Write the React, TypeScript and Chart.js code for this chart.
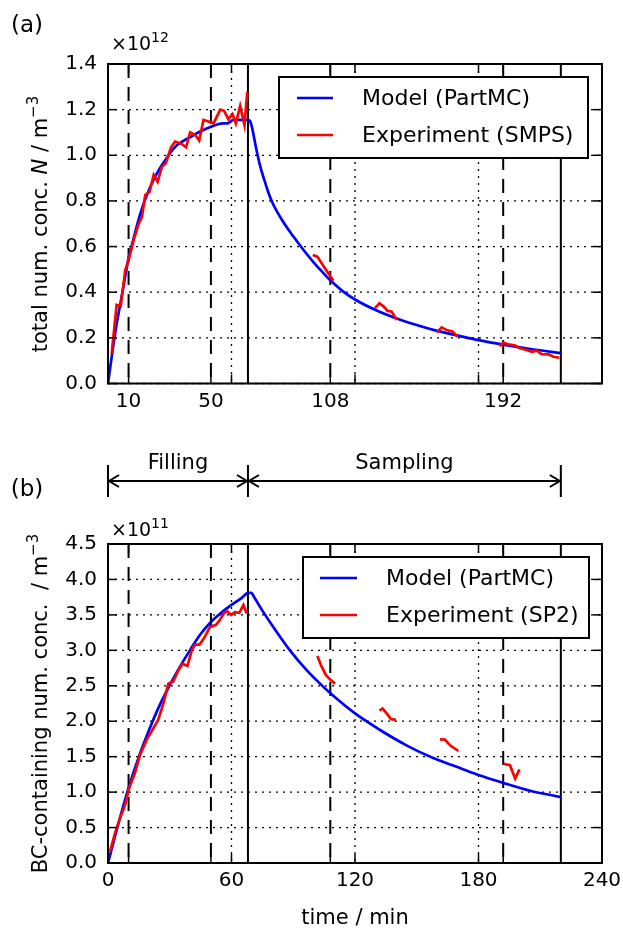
import { useEffect, useRef } from "react";
import { Chart, registerables } from "chart.js";

Chart.register(...registerables);

const FONT = '"DejaVu Sans", sans-serif';

// ---------- panel (a): total number concentration (units of 1e12 m^-3) ----------
const modelTimeA = [0, 2, 4, 6, 8, 10, 12, 14, 17, 20, 22, 25, 28.7, 31, 33.6, 37, 40, 45, 50, 53, 56, 58, 61, 64, 68, 69, 70, 72, 74, 76, 78, 80, 85, 90, 95, 100, 104, 108, 114, 120, 130, 142, 150, 158, 170, 180, 192, 206, 220];
const modelNumA = [0, 0.13, 0.25, 0.35, 0.45, 0.55, 0.62, 0.69, 0.78, 0.85, 0.89, 0.94, 0.99, 1.02, 1.045, 1.065, 1.08, 1.105, 1.125, 1.135, 1.14, 1.14, 1.155, 1.155, 1.155, 1.15, 1.12, 1.03, 0.95, 0.89, 0.835, 0.79, 0.71, 0.645, 0.585, 0.53, 0.49, 0.452, 0.405, 0.368, 0.322, 0.279, 0.256, 0.235, 0.21, 0.19, 0.17, 0.15, 0.133];
const expTimeA = [1.8, 4.2, 6.2, 8.4, 10, 12.5, 14.9, 16.5, 18.1, 20.2, 22.2, 24.1, 26.2, 28.1, 30.6, 32.6, 35.8, 37.9, 39.9, 42.3, 44.3, 46.4, 48.8, 51.3, 54.5, 56.4, 58.5, 60.5, 62.1, 64.2, 66.3, 67.7, 84, 99.5, 101.7, 103.8, 105.4, 107, 109.5, 120, 129.7, 131.9, 134.1, 135.7, 137.8, 140.3, 150, 159.7, 162.1, 164.6, 167.5, 169.8, 180, 190.1, 192.1, 194.5, 197.8, 200.2, 203.4, 205.9, 208.3, 210.7, 214, 216.4, 219.3];
const expNumA = [0.132, 0.344, 0.34, 0.497, 0.54, 0.63, 0.70, 0.73, 0.826, 0.84, 0.914, 0.884, 0.95, 0.965, 1.035, 1.06, 1.05, 1.035, 1.10, 1.09, 1.065, 1.155, 1.148, 1.14, 1.20, 1.195, 1.158, 1.18, 1.14, 1.216, 1.133, 1.279, null, 0.563, 0.556, 0.527, 0.505, 0.483, 0.45, null, 0.33, 0.351, 0.336, 0.319, 0.315, 0.278, null, 0.223, 0.246, 0.234, 0.227, 0.205, null, 0.164, 0.179, 0.172, 0.166, 0.154, 0.147, 0.139, 0.144, 0.129, 0.128, 0.117, 0.113];
const xTickLabelsA = [10, 50, 108, 192];
const yTicksA = [0, 0.2, 0.4, 0.6, 0.8, 1.0, 1.2, 1.4];

// ---------- panel (b): BC-containing number concentration (units of 1e11 m^-3) ----------
const modelTimeB = [0, 5, 10, 15, 20, 25, 30, 35, 40, 45, 50, 55, 60, 65, 68.2, 69.5, 71.4, 75, 80.3, 88.4, 96.5, 103, 108.2, 120, 132, 145, 158, 171, 180, 192, 205, 220];
const modelNumB = [0, 0.55, 1.06, 1.5, 1.88, 2.22, 2.51, 2.77, 3.01, 3.23, 3.40, 3.53, 3.64, 3.74, 3.81, 3.81, 3.73, 3.56, 3.33, 3.0, 2.72, 2.53, 2.39, 2.11, 1.88, 1.66, 1.48, 1.34, 1.24, 1.13, 1.02, 0.93];
const expTimeB = [1, 3.4, 5.8, 8.3, 10.2, 13.1, 15.5, 18.8, 22, 24.4, 26.9, 29.3, 31.7, 34.2, 36.3, 38.6, 40.7, 42.3, 44.4, 46.6, 49.6, 52.5, 54.4, 56.4, 58, 59.8, 61.7, 63.8, 65.8, 67.4, 80, 101.7, 103.8, 105.9, 108.2, 110.3, 120, 131.9, 133.4, 135.4, 137.4, 139.9, 150, 161.3, 163.7, 166.2, 170.2, 180, 192.1, 195.3, 197.8, 199.9];
const expNumB = [0.16, 0.42, 0.63, 0.82, 1.05, 1.27, 1.52, 1.74, 1.90, 2.02, 2.25, 2.53, 2.56, 2.72, 2.81, 2.78, 3.0, 3.08, 3.08, 3.17, 3.33, 3.36, 3.43, 3.53, 3.55, 3.50, 3.54, 3.53, 3.64, 3.52, null, 2.92, 2.77, 2.65, 2.58, 2.53, null, 2.15, 2.18, 2.11, 2.03, 2.02, null, 1.745, 1.74, 1.66, 1.58, null, 1.40, 1.38, 1.19, 1.32];
const xTickLabelsB = [0, 60, 120, 180, 240];
const yTicksB = [0, 0.5, 1.0, 1.5, 2.0, 2.5, 3.0, 3.5, 4.0, 4.5];

// ---------- reference lines (minutes) ----------
const dashedTimes = [10, 50, 108, 192];
const dottedTimes = [60, 120, 180];
const solidTimes = [68, 220];
const tickTimes = [10, 50, 60, 108, 120, 180, 192];
const fillingStart = 0;
const fillingEnd = 68;
const samplingEnd = 220;

type Part = { text: string; font: string; rise?: number };

function drawRich(ctx: CanvasRenderingContext2D, parts: Part[], x: number, y: number, rotate: boolean, align: "center" | "left") {
  ctx.save();
  ctx.translate(x, y);
  if (rotate) ctx.rotate(-Math.PI / 2);
  ctx.textBaseline = "alphabetic";
  ctx.textAlign = "left";
  let total = 0;
  for (const p of parts) {
    ctx.font = p.font;
    total += ctx.measureText(p.text).width;
  }
  let cx = align === "center" ? -total / 2 : 0;
  for (const p of parts) {
    ctx.font = p.font;
    ctx.fillText(p.text, cx, -(p.rise || 0));
    cx += ctx.measureText(p.text).width;
  }
  ctx.restore();
}

function vline(ctx: CanvasRenderingContext2D, x: number, y0: number, y1: number) {
  ctx.beginPath();
  ctx.moveTo(x, y0);
  ctx.lineTo(x, y1);
  ctx.stroke();
}
function hline(ctx: CanvasRenderingContext2D, y: number, x0: number, x1: number) {
  ctx.beginPath();
  ctx.moveTo(x0, y);
  ctx.lineTo(x1, y);
  ctx.stroke();
}

type Legend = { x: number; y: number; w: number; h: number; rows: { label: string; color: string; dy: number }[]; lx0: number; lx1: number; tx: number };

type DecorCfg = {
  yTicks: number[];
  legend: Legend;
  yTitle: Part[];
  yTitleCenterY: number;
  offsetExp: string;
  offsetBaseline: number;
  panelLabel: string;
  panelLabelY: number;
  extra?: (ctx: CanvasRenderingContext2D, chart: any) => void;
};

function makeDecor(cfg: DecorCfg) {
  return {
    id: "decor",
    beforeDatasetsDraw(chart: any) {
      const { ctx, chartArea: a, scales } = chart;
      const xs = scales.x;
      const ys = scales.y;
      ctx.save();
      ctx.strokeStyle = "#000";
      // dotted grid
      ctx.lineWidth = 1.3;
      ctx.setLineDash([2, 5]);
      for (const v of cfg.yTicks) hline(ctx, ys.getPixelForValue(v), a.left, a.right);
      for (const t of dottedTimes) vline(ctx, xs.getPixelForValue(t), a.top, a.bottom);
      // dashed phase lines
      ctx.lineWidth = 2;
      ctx.setLineDash([14, 9]);
      for (const t of dashedTimes) vline(ctx, xs.getPixelForValue(t), a.top, a.bottom);
      ctx.setLineDash([]);
      for (const t of solidTimes) vline(ctx, xs.getPixelForValue(t), a.top, a.bottom);
      ctx.restore();
    },
    afterDatasetsDraw(chart: any) {
      const { ctx, chartArea: a, scales } = chart;
      const xs = scales.x;
      const ys = scales.y;
      ctx.save();
      ctx.strokeStyle = "#000";
      ctx.fillStyle = "#000";
      ctx.setLineDash([]);
      // inward ticks
      ctx.lineWidth = 1.5;
      const tl = 9;
      for (const v of cfg.yTicks) {
        const y = ys.getPixelForValue(v);
        hline(ctx, y, a.left, a.left + tl);
        hline(ctx, y, a.right - tl, a.right);
      }
      for (const t of tickTimes) {
        const x = xs.getPixelForValue(t);
        vline(ctx, x, a.top, a.top + tl);
        vline(ctx, x, a.bottom - tl, a.bottom);
      }
      // frame
      ctx.lineWidth = 2;
      ctx.strokeRect(a.left, a.top, a.right - a.left, a.bottom - a.top);

      // legend
      const L = cfg.legend;
      ctx.fillStyle = "#fff";
      ctx.fillRect(L.x, L.y, L.w, L.h);
      ctx.lineWidth = 2;
      ctx.strokeRect(L.x, L.y, L.w, L.h);
      ctx.font = `22px ${FONT}`;
      ctx.textBaseline = "middle";
      ctx.textAlign = "left";
      for (const r of L.rows) {
        const y = L.y + r.dy;
        ctx.strokeStyle = r.color;
        ctx.lineWidth = 2.7;
        hline(ctx, y, L.x + L.lx0, L.x + L.lx1);
        ctx.fillStyle = "#000";
        ctx.fillText(r.label, L.x + L.tx, y + 1);
      }

      // offset text ×10^n
      ctx.fillStyle = "#000";
      drawRich(
        ctx,
        [
          { text: "×10", font: `19px ${FONT}` },
          { text: cfg.offsetExp, font: `14px ${FONT}`, rise: 8 },
        ],
        a.left + 3,
        cfg.offsetBaseline,
        false,
        "left"
      );
      // y title
      drawRich(ctx, cfg.yTitle, 47, cfg.yTitleCenterY, true, "center");
      // panel label
      ctx.font = `23px ${FONT}`;
      ctx.textAlign = "center";
      ctx.textBaseline = "middle";
      ctx.fillText(cfg.panelLabel, 27, cfg.panelLabelY);
      if (cfg.extra) cfg.extra(ctx, chart);
      ctx.restore();
    },
  };
}

function buildConfig(opts: {
  modelT: number[];
  modelV: number[];
  expT: number[];
  expV: (number | null)[];
  xLabels: number[];
  yTicks: number[];
  yMax: number;
  padTop: number;
  xAxisHeight: number;
  decor: any;
}) {
  return {
    type: "line" as const,
    data: {
      datasets: [
        {
          label: "Experiment",
          data: opts.expT.map((t, i) => ({ x: t, y: opts.expV[i] })),
          borderColor: "#ff0000",
          borderWidth: 2.7,
          pointRadius: 0,
          tension: 0,
          fill: false,
          spanGaps: false,
          order: 0,
        },
        {
          label: "Model",
          data: opts.modelT.map((t, i) => ({ x: t, y: opts.modelV[i] })),
          borderColor: "#0000ff",
          borderWidth: 2.7,
          pointRadius: 0,
          tension: 0.3,
          cubicInterpolationMode: "monotone" as const,
          fill: false,
          order: 1,
        },
      ],
    },
    options: {
      responsive: false,
      animation: false as const,
      devicePixelRatio: 1,
      layout: { padding: { top: opts.padTop, right: 21, left: 0, bottom: 0 } },
      plugins: { legend: { display: false }, tooltip: { enabled: false }, title: { display: false } },
      scales: {
        x: {
          type: "linear" as const,
          min: 0,
          max: 240,
          grid: { display: false, drawTicks: false },
          border: { display: false },
          ticks: {
            font: { family: FONT, size: 20 },
            color: "#000",
            padding: 6,
            maxRotation: 0,
            autoSkip: false,
            callback: (v: any) => String(v),
          },
          afterBuildTicks: (s: any) => {
            s.ticks = opts.xLabels.map((v) => ({ value: v }));
          },
          afterFit: (s: any) => {
            s.height = opts.xAxisHeight;
            s.paddingLeft = 0;
            s.paddingRight = 0;
          },
        },
        y: {
          type: "linear" as const,
          min: 0,
          max: opts.yMax,
          grid: { display: false, drawTicks: false },
          border: { display: false },
          ticks: {
            font: { family: FONT, size: 20 },
            color: "#000",
            padding: 11,
            autoSkip: false,
            callback: (v: any) => Number(v).toFixed(1),
          },
          afterBuildTicks: (s: any) => {
            s.ticks = opts.yTicks.map((v) => ({ value: v }));
          },
          afterFit: (s: any) => {
            s.width = 108;
            s.paddingTop = 0;
            s.paddingBottom = 0;
          },
        },
      },
    },
    plugins: [opts.decor],
  };
}

export default function App() {
  const refA = useRef<HTMLCanvasElement>(null);
  const refB = useRef<HTMLCanvasElement>(null);

  useEffect(() => {
    const decorA = makeDecor({
      yTicks: yTicksA,
      legend: {
        x: 279,
        y: 77,
        w: 309,
        h: 81,
        lx0: 18,
        lx1: 54,
        tx: 83,
        rows: [
          { label: "Model (PartMC)", color: "#0000ff", dy: 21 },
          { label: "Experiment (SMPS)", color: "#ff0000", dy: 58 },
        ],
      },
      yTitle: [
        { text: "total num. conc. ", font: `21px ${FONT}` },
        { text: "N", font: `italic 21px ${FONT}` },
        { text: " / m", font: `21px ${FONT}` },
        { text: "−3", font: `15px ${FONT}`, rise: 9 },
      ],
      yTitleCenterY: 224,
      offsetExp: "12",
      offsetBaseline: 50,
      panelLabel: "(a)",
      panelLabelY: 26,
    });

    const decorB = makeDecor({
      yTicks: yTicksB,
      legend: {
        x: 303,
        y: 117,
        w: 286,
        h: 81,
        lx0: 17,
        lx1: 54,
        tx: 83,
        rows: [
          { label: "Model (PartMC)", color: "#0000ff", dy: 21 },
          { label: "Experiment (SP2)", color: "#ff0000", dy: 58 },
        ],
      },
      yTitle: [
        { text: "BC-containing num. conc.  / m", font: `21px ${FONT}` },
        { text: "−3", font: `15px ${FONT}`, rise: 9 },
      ],
      yTitleCenterY: 263.5,
      offsetExp: "11",
      offsetBaseline: 96,
      panelLabel: "(b)",
      panelLabelY: 50,
      extra: (ctx, chart) => {
        const xs = chart.scales.x;
        const a = chart.chartArea;
        const x0 = xs.getPixelForValue(fillingStart);
        const x1 = xs.getPixelForValue(fillingEnd);
        const x2 = xs.getPixelForValue(samplingEnd);
        const y = 41;
        ctx.strokeStyle = "#000";
        ctx.lineWidth = 2;
        for (const x of [x0, x1, x2]) vline(ctx, x, y - 16, y + 16);
        const arrow = (xa: number, xb: number) => {
          hline(ctx, y, xa, xb);
          ctx.beginPath();
          ctx.moveTo(xa + 11, y - 6);
          ctx.lineTo(xa + 1, y);
          ctx.lineTo(xa + 11, y + 6);
          ctx.moveTo(xb - 11, y - 6);
          ctx.lineTo(xb - 1, y);
          ctx.lineTo(xb - 11, y + 6);
          ctx.stroke();
        };
        arrow(x0, x1);
        arrow(x1, x2);
        ctx.fillStyle = "#000";
        ctx.font = `21px ${FONT}`;
        ctx.textAlign = "center";
        ctx.textBaseline = "alphabetic";
        ctx.fillText("Filling", (x0 + x1) / 2, 29);
        ctx.fillText("Sampling", (x1 + x2) / 2, 29);
        // x-axis title
        ctx.fillText("time / min", (a.left + a.right) / 2, 484);
      },
    });

    const chartA = new Chart(
      refA.current as HTMLCanvasElement,
      buildConfig({
        modelT: modelTimeA,
        modelV: modelNumA,
        expT: expTimeA,
        expV: expNumA,
        xLabels: xTickLabelsA,
        yTicks: yTicksA,
        yMax: 1.4,
        padTop: 64,
        xAxisHeight: 56.5,
        decor: decorA,
      }) as any
    );
    const chartB = new Chart(
      refB.current as HTMLCanvasElement,
      buildConfig({
        modelT: modelTimeB,
        modelV: modelNumB,
        expT: expTimeB,
        expV: expNumB,
        xLabels: xTickLabelsB,
        yTicks: yTicksB,
        yMax: 4.5,
        padTop: 104,
        xAxisHeight: 68,
        decor: decorB,
      }) as any
    );
    return () => {
      chartA.destroy();
      chartB.destroy();
    };
  }, []);

  return (
    <div style={{ position: "absolute", left: 0, top: 0, width: 623, height: 931, background: "#fff", overflow: "hidden" }}>
      <canvas ref={refA} width={623} height={440} style={{ position: "absolute", left: 0, top: 0, display: "block" }} />
      <canvas ref={refB} width={623} height={491} style={{ position: "absolute", left: 0, top: 440, display: "block" }} />
    </div>
  );
}
